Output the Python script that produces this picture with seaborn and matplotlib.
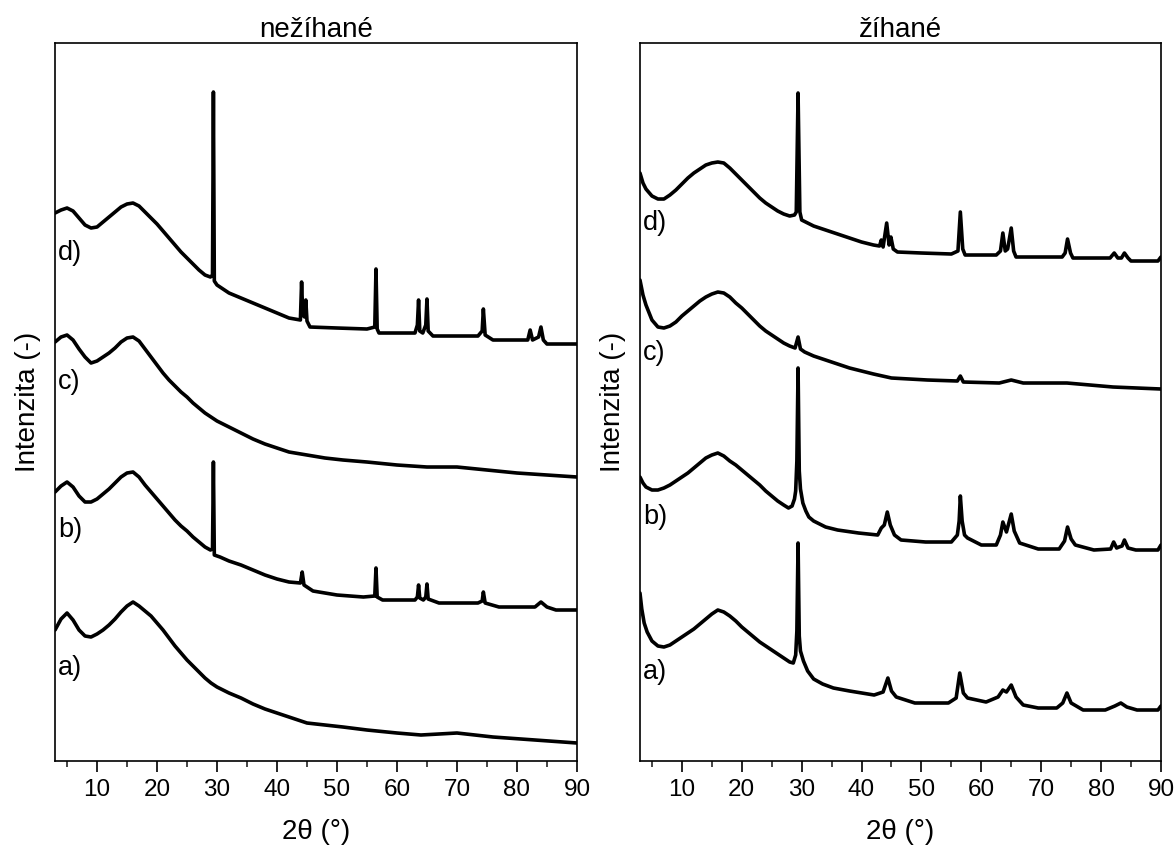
import numpy as np
import pandas as pd
import matplotlib
matplotlib.use("Agg")
import matplotlib.pyplot as plt
import seaborn as sns

# ---------------- data (heights, arbitrary units) ----------------
panel_titles = ["nežíhané", "žíhané"]
curve_labels = ["a)", "b)", "c)", "d)"]
x_ticks = [10, 20, 30, 40, 50, 60, 70, 80, 90]

# --- nežíhané (left) ---
L_d_x = [3, 4, 5, 6, 7, 8, 9, 10, 11, 12, 13, 14, 15, 16, 17, 18, 19, 20, 21, 22, 23, 24, 25,
         26, 27, 28, 28.9, 29.25, 29.4, 29.55, 30, 31, 32, 34, 36, 38, 40, 42, 43.9, 44.1, 44.3,
         44.6, 44.8, 45.0, 45.5, 50, 55.0, 56.3, 56.5, 56.7, 57.0, 60, 63.0, 63.4, 63.6, 63.8,
         64.3, 64.8, 65.0, 65.2, 66.0, 70, 73.5, 74.2, 74.4, 74.7, 76.0, 79, 81.8, 82.2, 82.6,
         83.6, 84.0, 84.4, 85.0, 90.0]
L_d_y = [548, 551, 553, 550, 543, 536, 533, 534, 539, 544, 549, 554, 557, 558, 555, 549, 543,
         537, 530, 523, 516, 509, 503, 497, 491, 486, 484, 486, 669, 480, 476, 472, 468, 463,
         458, 453, 448, 443, 441, 479, 446, 444, 461, 440, 434, 433, 432, 434, 492, 432, 428,
         428, 428, 436, 461, 430, 428, 436, 462, 430, 425, 425, 425, 430, 452, 426, 421, 421,
         421, 431, 421, 424, 434, 421, 417, 417]

L_c_x = [3, 4, 5, 6, 7, 8, 9, 10, 11, 12, 13, 14, 15, 16, 17, 18, 19, 20, 21, 22, 23, 24, 25,
         26, 27, 28, 29, 30, 32, 34, 36, 38, 40, 42, 45, 48, 51, 55, 60, 65, 70, 75, 80, 85, 90]
L_c_y = [419, 424, 426, 421, 412, 404, 398, 400, 404, 408, 413, 419, 423, 424, 420, 412, 404,
         396, 388, 381, 375, 369, 364, 358, 353, 348, 344, 340, 334, 328, 322, 317, 313, 309,
         306, 303, 301, 299, 296, 294, 294, 291, 288, 286, 284]

L_b_x = [3, 4, 5, 6, 7, 8, 9, 10, 11, 12, 13, 14, 15, 16, 17, 18, 19, 20, 21, 22, 23, 24, 25,
         26, 27, 28, 28.9, 29.25, 29.4, 29.55, 30.5, 32, 34, 36, 38, 40, 42, 43.9, 44.2, 44.5,
         46, 48, 50, 54.4, 56.3, 56.5, 56.7, 57.6, 60, 63.0, 63.4, 63.6, 63.8, 64.4, 64.8, 65.0,
         65.2, 67.0, 70, 73.5, 74.2, 74.4, 74.7, 77.0, 80, 83.0, 84.0, 85, 86.5, 90.0]
L_b_y = [269, 275, 279, 274, 265, 259, 259, 262, 267, 272, 278, 284, 288, 289, 284, 276, 269,
         262, 255, 248, 241, 235, 230, 224, 219, 214, 211, 212, 299, 206, 204, 200, 196, 191,
         186, 182, 179, 178, 189, 176, 170, 168, 166, 164, 165, 193, 164, 161, 161, 161, 164,
         176, 163, 161, 164, 177, 162, 158, 158, 158, 160, 169, 158, 154, 154, 154, 159, 154,
         151, 151]

L_a_x = [3, 4, 5, 6, 7, 8, 9, 10, 11, 12, 13, 14, 15, 16, 17, 18, 19, 20, 21, 22, 23, 24, 25,
         26, 27, 28, 29, 30, 32, 34, 36, 38, 40, 42, 45, 48, 51, 55, 60, 64, 70, 76, 83, 90]
L_a_y = [131, 142, 148, 141, 131, 125, 124, 127, 131, 136, 142, 149, 155, 159, 155, 150, 145,
         138, 131, 123, 115, 108, 101, 95, 89, 83, 78, 74, 68, 63, 57, 52, 48, 44, 38, 36, 34,
         31, 28, 26, 28, 24, 21, 18]

# --- žíhané (right) ---
R_d_x = [3, 3.5, 4, 5, 6, 7, 8, 9, 10, 11, 12, 13, 14, 15, 16, 17, 18, 19, 20, 21, 22, 23, 24,
         25, 26, 27, 28, 28.8, 29.1, 29.4, 29.7, 30, 31, 32, 34, 36, 38, 40, 42, 43.0, 43.3,
         43.6, 44.2, 44.6, 44.9, 45.3, 46, 50, 55.0, 56.1, 56.5, 56.9, 57.3, 60, 62.5, 63.2,
         63.6, 64.0, 64.4, 65.0, 65.4, 65.8, 70, 73.5, 74.0, 74.4, 74.9, 75.3, 78, 81.5, 82.2,
         82.8, 83.4, 83.9, 84.5, 85.0, 89.5, 90.0]
R_d_y = [588, 578, 572, 565, 562, 562, 566, 571, 577, 583, 588, 592, 596, 598, 599, 598, 593,
         587, 581, 575, 569, 563, 558, 554, 550, 547, 545, 546, 549, 668, 549, 541, 538, 535,
         531, 527, 523, 519, 516, 515, 521, 514, 538, 516, 524, 512, 509, 508, 507, 510, 549,
         512, 506, 506, 506, 510, 528, 510, 512, 533, 510, 504, 504, 504, 508, 522, 508, 503,
         503, 503, 508, 503, 503, 508, 503, 500, 500, 504]

R_c_x = [3, 3.5, 4, 5, 6, 7, 8, 9, 10, 11, 12, 13, 14, 15, 16, 17, 18, 19, 20, 21, 22, 23, 24,
         25, 26, 27, 28, 28.9, 29.4, 29.8, 30.5, 32, 34, 36, 38, 40, 42, 45, 51, 56.0, 56.5,
         57.0, 63.0, 65.0, 67.0, 74.3, 82.0, 90.0]
R_c_y = [481, 466, 456, 441, 434, 433, 435, 439, 445, 450, 455, 460, 464, 467, 469, 468, 464,
         458, 453, 447, 441, 435, 430, 426, 422, 418, 415, 413, 424, 412, 409, 405, 401, 397,
         393, 390, 387, 383, 381, 380, 385, 379, 378, 381, 378, 378, 374, 372]

R_b_x = [3, 3.5, 4, 5, 6, 7, 8, 9, 10, 11, 12, 13, 14, 15, 16, 17, 18, 19, 20, 21, 22, 23, 24,
         25, 26, 27, 27.8, 28.4, 28.8, 29.0, 29.2, 29.4, 29.6, 29.8, 30.2, 30.7, 31.2, 32, 34,
         36, 39.5, 42.7, 43.3, 43.8, 44.3, 44.8, 45.5, 46.6, 50.7, 55.0, 56.0, 56.3, 56.5, 56.8,
         57.2, 57.7, 60.0, 62.5, 63.2, 63.6, 64.2, 65.0, 65.5, 66.4, 69.5, 73.0, 73.9, 74.4,
         75.0, 75.7, 78.8, 81.6, 82.1, 82.6, 83.0, 83.5, 83.9, 84.5, 85.8, 89.5, 90.0]
R_b_y = [284, 278, 274, 271, 271, 273, 276, 280, 284, 288, 293, 298, 303, 306, 308, 305, 300,
         296, 291, 286, 281, 276, 270, 265, 260, 256, 253, 255, 262, 270, 300, 393, 290, 272,
         258, 250, 244, 240, 234, 231, 228, 226, 233, 236, 249, 236, 226, 221, 219, 219, 226,
         240, 265, 240, 226, 223, 216, 216, 226, 239, 229, 247, 230, 218, 212, 212, 220, 234,
         222, 216, 211, 212, 219, 213, 214, 215, 221, 213, 211, 211, 216]

R_a_x = [3, 3.3, 3.7, 4.2, 5, 6, 7, 8, 9, 10, 11, 12, 13, 14, 15, 16, 17, 18, 19, 20, 21, 22,
         23, 24, 25, 26, 27, 28, 28.6, 29.0, 29.2, 29.4, 29.6, 29.8, 30.3, 31, 32, 33.5, 35.3,
         38, 42.1, 43.6, 44.4, 45.0, 45.8, 48.9, 54.5, 55.8, 56.4, 57.0, 57.7, 60.8, 62.8, 63.6,
         64.2, 65.0, 65.8, 67.0, 69.5, 72.6, 73.6, 74.3, 75.0, 77.0, 80.7, 82.3, 83.3, 84.3,
         86.0, 89.5, 90.0]
R_a_y = [168, 152, 138, 129, 120, 115, 114, 116, 120, 124, 128, 132, 137, 142, 147, 151, 149,
         145, 140, 134, 129, 124, 119, 115, 111, 107, 103, 99, 98, 106, 130, 218, 125, 110,
         100, 90, 82, 77, 73, 70, 66, 69, 83, 70, 64, 58, 58, 63, 88, 68, 63, 59, 64, 71, 69,
         76, 64, 56, 53, 53, 58, 68, 58, 51, 51, 55, 58, 54, 51, 51, 55]

# label anchor heights (same units)
L_label_y = [93, 231, 379, 508]
R_label_y = [89, 244, 408, 538]

# ---------------- styling ----------------
sns.set_theme(style="ticks")
plt.rcParams['font.family'] = ['Liberation Sans', 'DejaVu Sans']
plt.rcParams['axes.edgecolor'] = 'black'
plt.rcParams['axes.linewidth'] = 1.2

fig = plt.figure(figsize=(11.76, 8.5), dpi=100)
ax_l = fig.add_axes([0.0468, 0.1047, 0.4438, 0.8447])
ax_r = fig.add_axes([0.5442, 0.1047, 0.4430, 0.8447])

left_curves = [(L_a_x, L_a_y), (L_b_x, L_b_y), (L_c_x, L_c_y), (L_d_x, L_d_y)]
right_curves = [(R_a_x, R_a_y), (R_b_x, R_b_y), (R_c_x, R_c_y), (R_d_x, R_d_y)]

for ax, curves, title, lab_y in [(ax_l, left_curves, panel_titles[0], L_label_y),
                                 (ax_r, right_curves, panel_titles[1], R_label_y)]:
    for (xs, ys), lab, ly in zip(curves, curve_labels, lab_y):
        df = pd.DataFrame({"x": xs, "y": ys})
        sns.lineplot(data=df, x="x", y="y", ax=ax, color="black", linewidth=2.6,
                     estimator=None, sort=False)
        ax.text(3.5, ly, lab, ha="left", va="center", fontsize=19.5, color="black")
    ax.set_xlim(3, 90)
    ax.set_ylim(0, 718)
    ax.set_xticks(x_ticks)
    ax.set_xticks([5, 15, 25, 35, 45, 55, 65, 75, 85], minor=True)
    ax.set_yticks([])
    ax.tick_params(axis="x", which="major", direction="out", length=8, width=1.2,
                   labelsize=17.5, pad=5, colors="black")
    ax.tick_params(axis="x", which="minor", direction="out", length=4.5, width=1.2,
                   bottom=True)
    ax.set_xlabel("2θ (°)", fontsize=20, labelpad=13, color="black")
    ax.set_ylabel("Intenzita (-)", fontsize=20, labelpad=10, color="black")
    ax.set_title(title, fontsize=20, pad=4, color="black")
    for sp in ax.spines.values():
        sp.set_visible(True)
        sp.set_color("black")
        sp.set_linewidth(1.2)

fig.savefig("out.png", dpi=100, facecolor="white")
